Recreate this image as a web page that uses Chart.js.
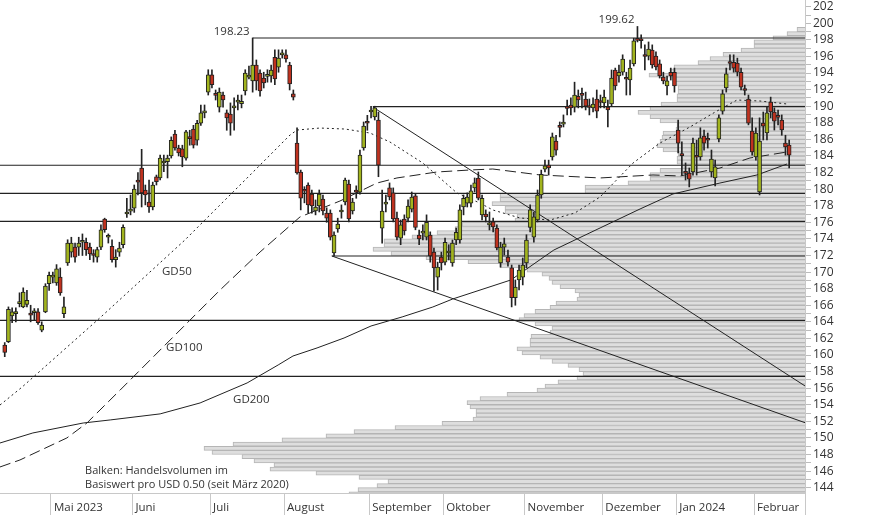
<!DOCTYPE html>
<html>
<head>
<meta charset="utf-8">
<script src="https://cdn.jsdelivr.net/npm/chart.js@4.4.0/dist/chart.umd.min.js"></script>
<style>
    body { margin: 0; background: #fff; }
    #wrap { position: relative; width: 874px; height: 515px; }
    #wrap canvas { position: absolute; left: 0; top: 0; }
</style>
</head>
<body>
<div id="wrap">
    <canvas id="volChart" width="874" height="515"></canvas>
    <canvas id="kursChart" width="874" height="515"></canvas>
</div>
<script>
// Tageskerzen (Index = Handelstag ab Mitte April 2023)
const eroeffnung = [
    161.2, 161.6, 164.7, 165.0, 166.2, 165.8, 166.1, 164.9, 165.1, 165.2,
    163.0, 165.2, 168.6, 169.4, 168.7, 169.4, 165.0, 171.1, 172.4, 173.0,
    173.0, 173.6, 173.6, 173.0, 172.1, 171.8, 173.0, 176.4, 174.2, 173.1,
    171.5, 172.4, 173.3, 177.0, 177.35, 177.7, 180.9, 182.55, 179.9, 178.45,
    177.85, 181.5, 181.35, 183.15, 183.3, 184.0, 186.65, 184.96, 184.85, 183.75,
    186.2, 187.25, 185.9, 187.95, 189.2, 191.7, 193.8, 191.35, 189.9, 191.35,
    189.2, 189.05, 189.8, 190.5, 190.3, 191.85, 193.5, 193.05, 194.97, 194.0,
    193.4, 193.6, 193.65, 195.9, 194.7, 196.2, 196.2, 194.97, 191.5, 185.55,
    182.05, 179.8, 180.5, 179.4, 177.37, 177.97, 178.8, 177.13, 177.13, 172.3,
    175.2, 177.25, 178.45, 180.6, 177.37, 179.7, 179.65, 184.96, 188.0, 189.3,
    188.7, 188.34, 175.3, 178.2, 180.15, 179.55, 176.5, 174.1, 176.4, 176.5,
    177.6, 179.2, 174.47, 174.7, 174.2, 174.47, 172.4, 169.4, 171.8, 171.2,
    172.3, 171.1, 173.87, 173.87, 177.85, 178.3, 178.3, 180.15, 181.35, 176.9,
    177.0, 175.7, 176.05, 175.3, 171.1, 173.0, 171.8, 170.5, 166.9, 169.05,
    169.4, 171.1, 175.4, 174.2, 176.3, 179.3, 182.4, 182.9, 183.9, 185.8,
    187.5, 187.85, 189.8, 190.15, 189.9, 191.2, 191.35, 190.87, 189.9, 189.8,
    190.87, 190.5, 190.4, 189.9, 190.27, 194.37, 193.65, 194.1, 193.3, 193.16,
    195.1, 198.0, 198.0, 196.05, 196.05, 196.78, 196.05, 195.1, 193.5, 192.45,
    194.1, 194.1, 187.13, 184.1, 181.95, 181.95, 182.07, 183.9, 183.9, 186.4,
    185.93, 182.07, 181.35, 186.05, 189.4, 192.2, 195.2, 195.3, 195.2, 194.1,
    191.96, 190.87, 187.0, 183.9, 179.66, 187.97, 186.77, 190.5, 189.3, 188.7,
    188.34, 185.55, 185.3
];
const hoch = [
    161.5, 165.8, 165.7, 165.7, 167.5, 168.1, 167.8, 166.0, 165.6, 165.6,
    164.0, 168.6, 170.0, 170.0, 170.9, 170.5, 167.0, 173.9, 174.2, 173.5,
    174.2, 174.6, 174.1, 173.5, 172.7, 173.0, 175.7, 176.5, 174.6, 173.9,
    172.7, 173.6, 175.7, 178.9, 179.3, 180.5, 182.0, 184.8, 180.5, 181.1,
    180.85, 181.7, 184.1, 184.1, 184.1, 186.3, 187.1, 185.3, 185.3, 187.1,
    187.1, 187.7, 188.3, 190.15, 190.15, 194.4, 194.4, 191.96, 192.2, 191.7,
    189.55, 190.4, 191.0, 191.35, 191.35, 194.4, 194.85, 198.23, 195.58, 194.4,
    194.1, 194.4, 194.97, 196.8, 196.8, 196.8, 196.8, 195.3, 191.96, 187.4,
    182.3, 180.3, 180.75, 179.9, 178.7, 179.9, 179.3, 177.75, 177.5, 174.85,
    176.5, 178.1, 181.35, 181.1, 178.9, 180.4, 184.7, 188.1, 188.9, 190.0,
    190.0, 189.3, 179.9, 179.3, 180.75, 180.15, 177.25, 176.28, 176.9, 178.7,
    179.66, 179.4, 175.08, 175.7, 176.9, 174.85, 172.9, 171.2, 172.4, 174.1,
    173.3, 173.87, 175.3, 178.1, 179.3, 179.55, 180.5, 181.35, 182.07, 179.3,
    177.5, 177.25, 176.5, 175.7, 173.6, 174.1, 172.66, 170.85, 169.05, 170.85,
    171.7, 174.5, 178.1, 177.25, 179.9, 182.3, 183.5, 183.5, 186.77, 186.5,
    188.1, 188.95, 190.75, 191.0, 192.9, 191.96, 192.2, 191.7, 190.87, 191.0,
    191.96, 191.35, 191.96, 190.75, 194.37, 194.6, 194.97, 196.2, 194.1, 195.58,
    198.2, 199.62, 198.6, 197.4, 197.75, 197.4, 196.55, 195.58, 194.1, 193.65,
    194.6, 194.6, 188.34, 185.7, 183.16, 182.55, 186.15, 185.9, 187.4, 187.13,
    186.77, 184.72, 183.5, 188.95, 191.96, 194.6, 196.2, 196.2, 195.8, 194.6,
    192.55, 191.35, 188.6, 187.4, 188.6, 189.3, 190.0, 191.1, 189.8, 189.55,
    188.95, 186.5, 185.93
];
const tief = [
    159.8, 161.5, 163.9, 164.0, 165.8, 165.7, 165.8, 164.0, 164.2, 163.7,
    162.8, 165.1, 167.8, 168.7, 168.4, 167.2, 164.5, 170.8, 171.8, 171.2,
    172.0, 172.0, 172.0, 171.5, 171.2, 171.2, 172.7, 174.8, 173.5, 171.2,
    170.6, 171.9, 172.9, 176.6, 176.9, 177.2, 179.3, 177.85, 178.1, 177.2,
    177.5, 180.5, 181.1, 182.1, 181.35, 183.75, 184.7, 184.0, 182.7, 183.5,
    185.3, 184.96, 185.3, 187.7, 188.6, 191.35, 192.2, 190.75, 189.3, 189.9,
    187.1, 186.5, 187.1, 189.55, 189.8, 191.35, 193.3, 191.7, 191.96, 191.2,
    192.2, 192.9, 192.9, 192.6, 194.1, 195.8, 195.3, 191.96, 190.75, 181.8,
    177.5, 178.35, 177.1, 177.1, 176.9, 177.25, 176.9, 176.0, 173.87, 171.94,
    174.8, 176.5, 178.1, 176.05, 177.0, 178.9, 179.4, 184.7, 187.1, 188.6,
    188.34, 181.5, 173.5, 177.25, 178.7, 176.05, 173.87, 173.3, 174.47, 176.05,
    177.25, 175.1, 173.3, 173.87, 173.87, 171.2, 167.7, 167.84, 170.25, 170.85,
    171.46, 170.7, 173.3, 173.5, 176.9, 177.85, 177.85, 179.66, 178.7, 176.28,
    176.05, 175.08, 174.85, 172.66, 170.6, 172.07, 170.7, 165.8, 166.0, 167.84,
    168.45, 170.5, 174.85, 173.6, 176.05, 178.9, 182.07, 181.7, 183.5, 184.1,
    186.3, 187.5, 188.95, 188.95, 189.3, 189.8, 189.8, 189.55, 188.95, 189.3,
    188.6, 189.8, 189.8, 187.5, 190.0, 191.96, 192.9, 193.75, 191.35, 191.35,
    194.85, 197.75, 197.0, 194.37, 195.58, 194.6, 194.37, 193.4, 192.7, 191.35,
    193.16, 191.7, 184.36, 181.7, 181.1, 180.27, 181.7, 181.7, 183.5, 184.7,
    184.96, 181.47, 180.4, 185.7, 189.05, 191.7, 194.37, 194.1, 193.65, 191.96,
    191.35, 187.75, 184.1, 183.5, 179.3, 185.93, 185.93, 188.6, 187.13, 187.75,
    186.5, 184.1, 182.55
];
const schluss = [
    160.3, 165.5, 165.2, 165.2, 166.4, 167.6, 166.6, 164.8, 165.3, 163.9,
    163.6, 168.3, 169.6, 169.5, 170.4, 167.5, 165.8, 173.5, 173.5, 171.8,
    173.5, 173.7, 172.7, 172.2, 172.0, 172.7, 175.1, 175.1, 174.25, 171.5,
    171.8, 172.9, 175.4, 177.2, 177.4, 180.0, 180.85, 179.55, 179.3, 177.85,
    180.5, 180.9, 183.75, 183.2, 183.75, 185.9, 184.96, 184.36, 183.9, 186.9,
    186.1, 185.3, 187.95, 189.2, 189.4, 193.8, 192.6, 191.3, 191.7, 190.75,
    188.6, 187.95, 189.8, 190.5, 190.6, 194.0, 193.5, 194.97, 193.05, 191.85,
    192.8, 193.65, 194.37, 193.3, 195.8, 196.4, 195.7, 192.7, 191.1, 181.95,
    178.9, 179.75, 178.1, 177.97, 177.85, 179.4, 177.37, 176.5, 174.2, 174.47,
    175.8, 177.25, 181.1, 176.4, 178.45, 179.65, 184.1, 187.6, 187.95, 189.3,
    189.8, 182.9, 177.37, 178.2, 179.05, 176.4, 174.2, 175.7, 174.95, 177.97,
    179.05, 175.4, 174.0, 174.7, 176.0, 171.94, 170.5, 170.6, 171.1, 173.6,
    172.3, 173.5, 174.8, 177.5, 178.9, 179.05, 179.8, 180.75, 178.9, 178.9,
    176.65, 175.7, 175.45, 172.9, 173.0, 173.4, 171.2, 166.9, 168.2, 170.25,
    170.85, 173.87, 177.5, 176.65, 179.3, 181.8, 182.8, 182.55, 186.3, 184.7,
    187.45, 188.1, 189.75, 189.8, 191.35, 190.75, 191.3, 190.0, 189.85, 190.27,
    189.4, 190.45, 191.1, 189.55, 193.4, 192.45, 194.1, 195.7, 193.25, 194.6,
    197.9, 197.95, 197.9, 196.0, 196.9, 194.97, 194.73, 193.65, 193.05, 193.05,
    193.65, 192.45, 185.55, 184.05, 181.9, 181.2, 185.55, 183.85, 186.2, 185.55,
    185.9, 183.64, 182.7, 188.6, 191.5, 193.9, 195.15, 194.6, 194.1, 192.3,
    191.9, 187.97, 184.5, 186.77, 185.8, 187.6, 189.2, 189.3, 188.2, 188.65,
    187.13, 185.1, 184.1
];

// Gleitende Durchschnitte (Handelstag, Wert)
const gd50Tage = [-1.28, 4.7, 25.7, 48.7, 54.1, 66.3, 77.1, 79.0, 85.2, 92.0, 98.7, 104.1, 113.0, 117.6, 122.2, 128.4, 131.9, 139.3, 147.4, 154.1, 160.9, 169.8, 177.1, 185.2, 192.0, 197.9, 204.1, 211.4];
const gd50Werte = [153.97, 156.14, 164.47, 173.87, 176.28, 181.7, 186.53, 187.13, 187.37, 187.25, 186.77, 185.69, 183.15, 181.35, 179.54, 178.33, 177.49, 176.52, 176.28, 177.13, 179.06, 183.15, 185.57, 187.5, 189.3, 190.75, 190.63, 190.27];
const gd100Tage = [-1.28, 4.1, 16.8, 22.2, 31.2, 58.2, 69.0, 79.8, 90.6, 100.6, 106.0, 116.8, 125.7, 131.9, 144.7, 160.9, 175.2, 182.5, 193.3, 201.4, 211.4];
const gd100Werte = [146.5, 147.34, 150.0, 151.8, 155.78, 167.84, 172.42, 176.65, 178.57, 180.74, 181.35, 182.07, 182.31, 182.43, 181.71, 181.35, 181.71, 181.59, 182.55, 183.76, 184.48];
const gd200Tage = [-1.28, 7.6, 21.2, 28.5, 42.0, 52.8, 65.5, 73.9, 77.9, 84.4, 91.7, 99.0, 107.4, 115.7, 121.1, 136.8, 148.4, 160.9, 171.7, 180.6, 193.3, 203.3, 211.4];
const gd200Werte = [149.39, 150.6, 151.8, 152.17, 152.9, 154.22, 156.63, 158.8, 159.88, 160.85, 162.05, 163.5, 164.59, 165.79, 166.76, 169.05, 172.66, 175.32, 177.61, 179.42, 180.74, 181.71, 183.03];

// Horizontale Linien (Wert, Start-Handelstag) und Trendlinien
const linienWerte = [198.23, 189.95, 182.88, 179.5, 176.12, 171.94, 164.18, 157.43];
const linienStart = [67, 99.5, -1.28, -1.28, -1.28, 88.4, -1.28, -1.28];
const trendTage = [[99.5, 216.28], [88.4, 216.28]];
const trendWerte = [[189.9, 156.27], [171.94, 151.84]];

// Volumenprofil pro USD 0.50
const volumenPreise = [
    199.25, 198.75, 198.25, 197.75, 197.25, 196.75, 196.25, 195.75, 195.25, 194.75,
    194.25, 193.75, 193.25, 192.75, 192.25, 191.75, 191.25, 190.75, 190.25, 189.75,
    189.25, 188.75, 188.25, 187.75, 187.25, 186.75, 186.25, 185.75, 185.25, 184.75,
    184.25, 183.75, 183.25, 182.75, 182.25, 181.75, 181.25, 180.75, 180.25, 179.75,
    179.25, 178.75, 178.25, 177.75, 177.25, 176.75, 176.25, 175.75, 175.25, 174.75,
    174.25, 173.75, 173.25, 172.75, 172.25, 171.75, 171.25, 170.75, 170.25, 169.75,
    169.25, 168.75, 168.25, 167.75, 167.25, 166.75, 166.25, 165.75, 165.25, 164.75,
    164.25, 163.75, 163.25, 162.75, 162.25, 161.75, 161.25, 160.75, 160.25, 159.75,
    159.25, 158.75, 158.25, 157.75, 157.25, 156.75, 156.25, 155.75, 155.25, 154.75,
    154.25, 153.75, 153.25, 152.75, 152.25, 151.75, 151.25, 150.75, 150.25, 149.75,
    149.25, 148.75, 148.25, 147.75, 147.25, 146.75, 146.25, 145.75, 145.25, 144.75,
    144.25, 143.75, 143.25
];
const volumen = [
    8, 18, 32, 51, 51, 64, 82, 95, 107, 131,
    135, 156, 132, 131, 127, 127, 128, 128, 144, 155,
    167, 155, 145, 128, 129, 142, 143, 145, 148, 142,
    127, 128, 128, 123, 145, 155, 155, 177, 220, 220,
    305, 305, 313, 300, 300, 288, 290, 343, 350, 368,
    393, 421, 421, 432, 414, 379, 337, 305, 278, 263,
    256, 253, 245, 230, 226, 228, 249, 255, 270, 281,
    286, 270, 253, 255, 274, 275, 275, 288, 283, 265,
    253, 237, 226, 222, 228, 247, 260, 268, 298, 325,
    338, 335, 329, 329, 332, 363, 410, 451, 479, 523,
    572, 601, 593, 563, 551, 531, 535, 489, 446, 417,
    428, 447, 456
];

// Achsen
const monatsStart = [12.5, 34.5, 55.5, 75.5, 98.5, 118.5, 140.5, 161.5, 181.5, 202.5];
const monatsLabels = ['Mai 2023', 'Juni', 'Juli', 'August', 'September', 'Oktober', 'November', 'Dezember', 'Jan 2024', 'Februar'];
const preisTicks = [144, 146, 148, 150, 152, 154, 156, 158, 160, 162, 164, 166, 168, 170, 172, 174, 176, 178, 180, 182, 184, 186, 188, 190, 192, 194, 196, 198, 200, 202];
const nebenTicks = [145, 147, 149, 151, 153, 155, 157, 159, 161, 163, 165, 167, 169, 171, 173, 175, 177, 179, 181, 183, 185, 187, 189, 191, 193, 195, 197, 199, 201];
const hochpunkte = [67, 171];

const X_MIN = -1.28, X_MAX = 216.28;
const Y_MIN = 143.36, Y_MAX = 202.81;

Chart.defaults.font.family = '"Open Sans", sans-serif';
Chart.defaults.font.size = 11;
Chart.defaults.color = '#333';

const gruen = '#a2b41e';
const rot = '#c0321f';
const dunkel = '#222';

// Volumenprofil (Hintergrund)
new Chart(document.getElementById('volChart'), {
    type: 'bar',
    data: {
        datasets: [{
            data: volumen.map((v, k) => ({ x: v, y: volumenPreise[k] })),
            backgroundColor: '#dedede',
            borderColor: '#b5b5b5',
            borderWidth: 1,
            barPercentage: 1,
            categoryPercentage: 1
        }]
    },
    options: {
        indexAxis: 'y',
        responsive: false,
        animation: false,
        events: [],
        layout: { padding: { left: 0, top: 0, right: 69, bottom: 22 } },
        plugins: { legend: { display: false }, tooltip: { enabled: false } },
        scales: {
            x: { type: 'linear', display: false, min: 0, max: 805, reverse: true, offset: false },
            y: { type: 'linear', display: false, min: Y_MIN, max: Y_MAX, offset: false, grid: { offset: false } }
        }
    }
});

// Beschriftungen
const beschriftung = {
    id: 'beschriftung',
    afterDatasetsDraw(chart) {
        const { ctx, scales: { x, y } } = chart;
        ctx.save();
        ctx.fillStyle = '#333';
        ctx.font = '11.5px "Open Sans", sans-serif';
        ctx.textAlign = 'left';
        ctx.textBaseline = 'middle';
        ctx.fillText('GD50', x.getPixelForValue(42.5), y.getPixelForValue(170.0));
        ctx.fillText('GD100', x.getPixelForValue(43.6), y.getPixelForValue(160.85));
        ctx.fillText('GD200', x.getPixelForValue(61.7), y.getPixelForValue(154.58));
        ctx.font = '11px "Open Sans", sans-serif';
        ctx.fillText('Balken: Handelsvolumen im', x.getPixelForValue(21.7), y.getPixelForValue(146.02));
        ctx.fillText('Basiswert pro USD 0.50 (seit März 2020)', x.getPixelForValue(21.7), y.getPixelForValue(144.33));
        // Hochpunkte
        ctx.font = '11.5px "Open Sans", sans-serif';
        ctx.textAlign = 'right';
        ctx.textBaseline = 'alphabetic';
        hochpunkte.forEach(i => {
            ctx.fillText(hoch[i].toFixed(2), x.getPixelForValue(i) - 3, y.getPixelForValue(hoch[i]) - 3);
        });
        ctx.restore();
    }
};

function linie(tage, werte, dash, breite) {
    return {
        type: 'line',
        data: tage.map((t, k) => ({ x: t, y: werte[k] })),
        borderColor: dunkel,
        borderWidth: breite,
        borderDash: dash,
        pointRadius: 0,
        tension: 0,
        order: 10
    };
}

const datasets = [];
linienWerte.forEach((w, k) => datasets.push(linie([linienStart[k], X_MAX], [w, w], [], 1.2)));
trendTage.forEach((t, k) => datasets.push(linie(t, trendWerte[k], [], 1)));
datasets.push(linie(gd50Tage, gd50Werte, [2, 3], 1));
datasets.push(linie(gd100Tage, gd100Werte, [11, 5], 1));
datasets.push(linie(gd200Tage, gd200Werte, [], 1));

// Dochte
datasets.push({
    type: 'bar',
    data: hoch.map((h, i) => ({ x: i, y: [tief[i], h] })),
    backgroundColor: dunkel,
    borderWidth: 0,
    barThickness: 1,
    grouped: false,
    order: 2
});
// Kerzenkörper
datasets.push({
    type: 'bar',
    data: schluss.map((c, i) => ({ x: i, y: [eroeffnung[i], c] })),
    backgroundColor: schluss.map((c, i) => c >= eroeffnung[i] ? gruen : rot),
    borderColor: dunkel,
    borderWidth: 1,
    borderSkipped: false,
    barThickness: 4,
    minBarLength: 2,
    grouped: false,
    order: 1
});

new Chart(document.getElementById('kursChart'), {
    type: 'bar',
    data: { datasets: datasets },
    options: {
        responsive: false,
        animation: false,
        events: [],
        layout: { padding: 0 },
        plugins: { legend: { display: false }, tooltip: { enabled: false } },
        scales: {
            x: {
                type: 'linear',
                min: X_MIN,
                max: X_MAX,
                offset: false,
                // Monatsgrenzen plus rechter Rand als Trennstrich
                afterBuildTicks: s => { s.ticks = monatsStart.concat([X_MAX]).map(v => ({ value: v })); },
                afterFit: s => { s.height = 22; s.paddingLeft = 0; s.paddingRight = 0; },
                grid: { offset: false, drawOnChartArea: false, tickLength: 22, color: '#c8c8c8' },
                border: { color: '#c8c8c8' },
                ticks: {
                    autoSkip: false,
                    maxRotation: 0,
                    align: 'start',
                    labelOffset: 3,
                    padding: -14,
                    font: { size: 11.5 },
                    callback: (v, idx) => monatsLabels[idx] || ''
                }
            },
            y: {
                type: 'linear',
                position: 'right',
                min: Y_MIN,
                max: Y_MAX,
                afterBuildTicks: s => {
                    s.ticks = preisTicks.concat(nebenTicks).sort((a, b) => a - b).map(v => ({ value: v }));
                },
                afterFit: s => { s.width = 69; s.paddingTop = 0; s.paddingBottom = 0; },
                grid: { drawOnChartArea: false, tickLength: 6, color: '#bbb' },
                border: { color: '#c8c8c8' },
                ticks: {
                    padding: 2,
                    autoSkip: false,
                    font: { size: 12 },
                    callback: v => preisTicks.includes(v) ? String(v) : ''
                }
            }
        }
    },
    plugins: [beschriftung]
});
</script>
</body>
</html>
